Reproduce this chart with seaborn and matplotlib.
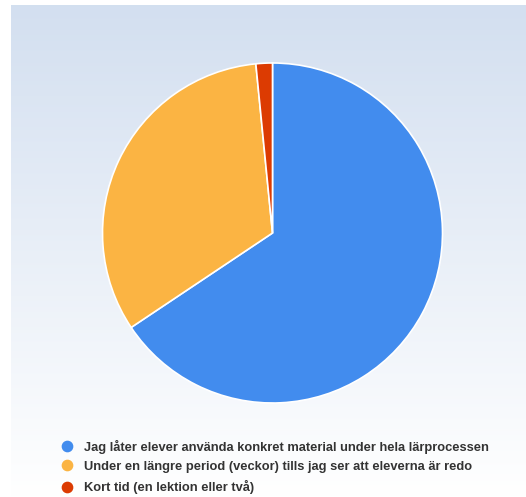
import numpy as np
import matplotlib
matplotlib.use("Agg")
import matplotlib.pyplot as plt
from matplotlib.lines import Line2D
import seaborn as sns

# Survey answers and their share of respondents
labels = [
    "Jag låter elever använda konkret material under hela lärprocessen",
    "Under en längre period (veckor) tills jag ser att eleverna är redo",
    "Kort tid (en lektion eller två)",
]
counts = [42, 21, 1]
colors = ["#428cee", "#fbb443", "#dc3b02"]

sns.set_style("white")
plt.rcParams["font.family"] = ["Liberation Sans", "DejaVu Sans"]
palette = sns.color_palette(colors)

W, H = 526, 497
fig = plt.figure(figsize=(W / 100, H / 100), dpi=100)
fig.patch.set_facecolor("white")

# Soft vertical gradient panel behind the chart
bg = fig.add_axes([11 / W, 0, 1 - 11 / W, (H - 5) / H])
grad = np.linspace(0, 1, 256)[:, None]
top = np.array([0.827, 0.875, 0.941])
bottom = np.array([1.0, 1.0, 1.0])
img = top[None, None, :] * (1 - grad[..., None]) + bottom[None, None, :] * grad[..., None]
bg.imshow(img, aspect="auto", extent=[0, 1, 0, 1], origin="upper")
bg.set_axis_off()

# Pie
cx, cy, r = 272.5, 233, 170
ax = fig.add_axes([(cx - r) / W, (H - cy - r) / H, 2 * r / W, 2 * r / H])
ax.pie(
    counts,
    colors=palette,
    startangle=90,
    counterclock=False,
    radius=1,
    wedgeprops=dict(edgecolor="white", linewidth=1.2),
)
ax.set_xlim(-1, 1)
ax.set_ylim(-1, 1)
ax.set_aspect("equal")
ax.set_axis_off()

# Legend rows
handles = [
    Line2D([], [], marker="o", linestyle="none", markersize=7.4,
           markerfacecolor=c, markeredgecolor=c)
    for c in palette
]
leg = fig.legend(
    handles, labels,
    loc="upper left",
    bbox_to_anchor=(59.5 / W, 1 - 439.5 / H),
    frameon=False,
    borderpad=0,
    borderaxespad=0,
    handlelength=1.2,
    handletextpad=0.66,
    labelspacing=0.57,
    prop=dict(family=["Liberation Sans", "DejaVu Sans"], weight="bold", size=9.3),
)
for t in leg.get_texts():
    t.set_color("#333333")

fig.savefig("out.png", dpi=100)
